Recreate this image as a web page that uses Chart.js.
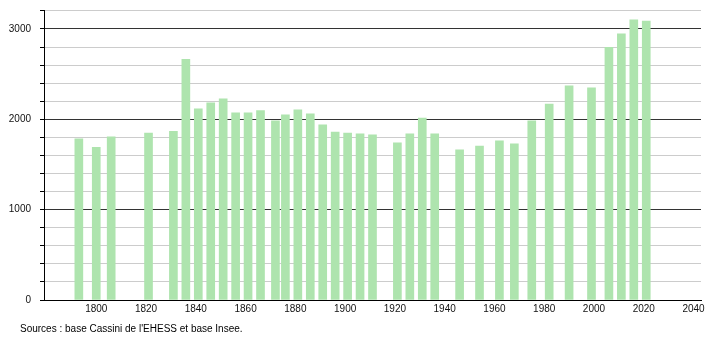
<!DOCTYPE html>
<html>
<head>
<meta charset="utf-8">
<script src="https://cdn.jsdelivr.net/npm/chart.js@4/dist/chart.umd.min.js"></script>
<style>
  html, body { margin: 0; padding: 0; background: #fff; }
  #wrap { position: relative; width: 710px; height: 340px; }
  #source {
    position: absolute; left: 20px; top: 323px;
    font: 10px "Liberation Sans", Arial, sans-serif; color: #000;
  }
</style>
</head>
<body>
<div id="wrap">
  <canvas id="chart" width="710" height="340"></canvas>
  <div id="source">Sources : base Cassini de l'EHESS et base Insee.</div>
</div>
<script>
const years = [1793, 1800, 1806, 1821, 1831, 1836, 1841, 1846, 1851, 1856, 1861, 1866,
  1872, 1876, 1881, 1886, 1891, 1896, 1901, 1906, 1911, 1921, 1926, 1931, 1936, 1946,
  1954, 1962, 1968, 1975, 1982, 1990, 1999, 2006, 2011, 2016, 2021];
const population = [1783, 1691, 1805, 1849, 1868, 2665, 2115, 2182, 2226, 2071, 2071, 2096,
  1982, 2049, 2104, 2060, 1938, 1860, 1849, 1838, 1827, 1739, 1838, 2015, 1838, 1661,
  1705, 1761, 1728, 1982, 2170, 2370, 2348, 2798, 2946, 3101, 3086];
const xTicks = [1800, 1820, 1840, 1860, 1880, 1900, 1920, 1940, 1960, 1980, 2000, 2020, 2040];
const yTicks = [0, 200, 400, 600, 800, 1000, 1200, 1400, 1600, 1800, 2000, 2200, 2400,
  2600, 2800, 3000, 3200];
const yLabels = [0, 1000, 2000, 3000];

const font = { family: "'Liberation Sans', Arial, sans-serif", size: 10 };

new Chart(document.getElementById("chart"), {
  type: "bar",
  data: {
    datasets: [{
      data: years.map((y, i) => ({ x: y, y: population[i] })),
      backgroundColor: "#aee4ae",
      borderWidth: 0,
      barThickness: 8,
    }],
  },
  options: {
    responsive: false,
    animation: false,
    layout: { padding: { top: 10, right: 9, bottom: 0, left: 0 } },
    plugins: { legend: { display: false }, tooltip: { enabled: false } },
    scales: {
      x: {
        type: "linear",
        offset: false,
        min: 1779,
        max: 2043,
        afterBuildTicks: (axis) => { axis.ticks = xTicks.map((v) => ({ value: v })); },
        afterFit: (axis) => {
          axis.height = 40;
          axis.paddingLeft = 0;
          axis.paddingRight = 0;
        },
        grid: { display: false, drawTicks: false },
        border: { display: true, color: "#000", width: 1 },
        ticks: {
          color: "#111", font, padding: 3, maxRotation: 0, autoSkip: false,
          callback: (v) => String(v),
        },
      },
      y: {
        min: 0,
        max: 3210,
        afterBuildTicks: (axis) => { axis.ticks = yTicks.map((v) => ({ value: v })); },
        afterFit: (axis) => {
          axis.width = 44;
          axis.paddingTop = 0;
          axis.paddingBottom = 0;
        },
        border: { display: true, color: "#000", width: 1 },
        grid: {
          color: (ctx) => (yLabels.includes(ctx.tick?.value) ? "#333" : "#cccccc"),
          tickColor: "#000",
          tickLength: 4,
          lineWidth: 1,
        },
        ticks: {
          color: "#111",
          font,
          padding: 9,
          autoSkip: false,
          callback: (v) => (yLabels.includes(v) ? String(v) : ""),
        },
      },
    },
  },
});
</script>
</body>
</html>
